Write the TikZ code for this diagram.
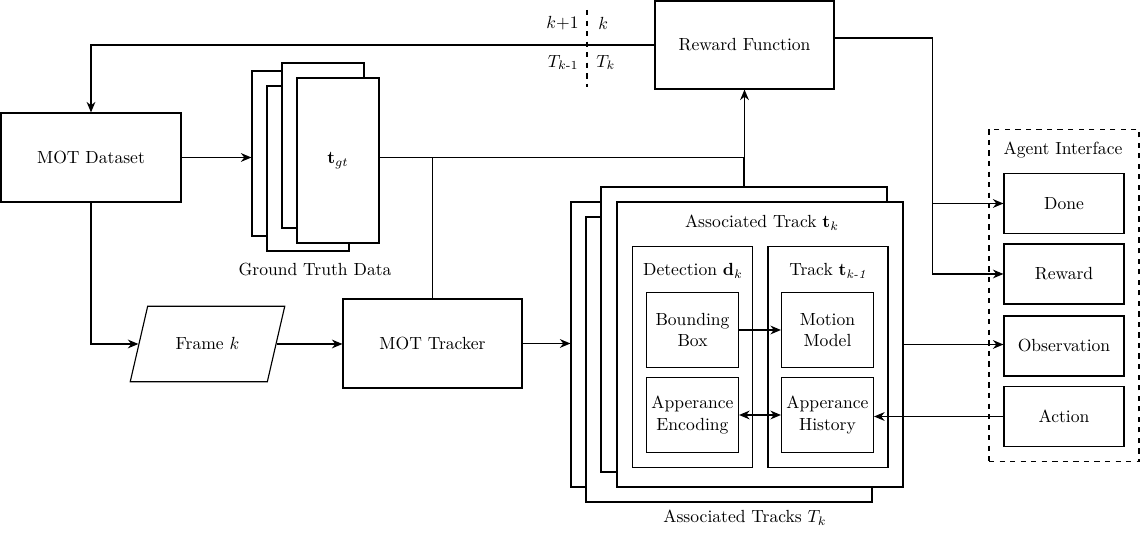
\documentclass[tikz,border=0pt]{standalone}
\usepackage{amsmath,amssymb}
\usetikzlibrary{shapes.geometric,arrows.meta}
\begin{document}
\begin{tikzpicture}[line width=0.65pt, >={Stealth[length=6pt,width=5pt]}, blk/.style={draw, minimum width=3.58cm, minimum height=1.78cm, inner sep=0pt}, pg/.style={draw, fill=white, minimum width=1.64cm, minimum height=3.3cm, inner sep=0pt}, trk/.style={draw, fill=white, minimum width=5.72cm, minimum height=5.7cm, inner sep=0pt}, grp/.style={draw, minimum width=2.4cm, minimum height=4.41cm, inner sep=0pt}, sm/.style={draw, minimum width=1.84cm, minimum height=1.5cm, inner sep=0pt, align=center}, ai/.style={draw, minimum width=2.4cm, minimum height=1.2cm, inner sep=0pt}]
	\useasboundingbox (0,0) rectangle (22.8,10.72);
	\node[blk, minimum width=3.6cm] (data) at (1.82,7.57) {MOT Dataset};
	\node[blk, minimum height=1.76cm] (rf) at (14.89,9.82) {Reward Function};
	\node[blk] (tracker) at (8.65,3.85) {MOT Tracker};
	\node[draw, trapezium, trapezium left angle=77, trapezium right angle=103, inner xsep=0.56cm, inner ysep=0.63cm] (frame) at (4.15,3.84) {Frame $k$};
	\foreach \n/\x/\y in {A/5.86/7.65, C/6.16/7.35, B/6.46/7.81} {\node[pg] (gt\n) at (\x,\y) {};}
	\node[pg] (gtD) at (6.76,7.51) {$\mathbf{t}_{gt}$};
	\node (gtlbl) at (6.3,5.32) {Ground Truth Data};
	\foreach \n/\x/\y in {A/14.28/3.83, C/14.58/3.53, B/14.88/4.13, D/15.2/3.83} {\node[trk] (tr\n) at (\x,\y) {};}
	\node (trlbl) at (15.24,6.26) {Associated Track $\mathbf{t}_k$};
	\node[grp] (det) at (13.85,3.58) {};
	\node (detlbl) at (13.86,5.3) {Detection $\mathbf{d}_k$};
	\node[grp] (old) at (16.56,3.58) {};
	\node (oldlbl) at (16.56,5.3) {Track $\mathbf{t}_{\textit{k-1}}$};
	\node[sm] (bb) at (13.85,4.12) {Bounding\\Box};
	\node[sm] (mm) at (16.55,4.12) {Motion\\Model};
	\node[sm] (ae) at (13.85,2.42) {Apperance\\Encoding};
	\node[sm] (ah) at (16.55,2.42) {Apperance\\History};
	\node (tslbl) at (14.9,0.36) {Associated Tracks $T_k$};
	\node[draw, dashed, minimum width=3cm, minimum height=6.65cm, inner sep=0pt] (agent) at (21.28,4.81) {};
	\node (agentlbl) at (21.26,7.72) {Agent Interface};
	\node[ai] (done) at (21.28,6.65) {Done};
	\node[ai] (rew) at (21.28,5.24) {Reward};
	\node[ai] (obs) at (21.28,3.8) {Observation};
	\node[ai] (act) at (21.28,2.39) {Action};
	\draw[dashed] (11.74,10.52) -- (11.74,8.98);
	\node[anchor=east] (knext) at (11.7,10.26) {$k{+}1$};
	\node[anchor=west] (know) at (11.84,10.26) {$k$};
	\node[anchor=east] (Tprev) at (11.7,9.47) {$T_{k\text{-}1}$};
	\node[anchor=west] (Tnow) at (11.8,9.47) {$T_k$};
	\coordinate (gtout) at ([yshift=0.06cm]gtD.east);
	\draw[->] (rf.west) -| (data.north);
	\draw[->] (data.east) -- (data.east -| gtA.west);
	\draw[->] (gtout) -| (rf.south);
	\draw (tracker.north) -- (tracker.north |- gtout);
	\draw (trB.north) -- (trB.north |- gtout);
	\draw[->] (data.south) |- (frame.west);
	\draw[->] (frame.east) -- (frame.east -| tracker.west);
	\draw[->] (tracker.east) -- (tracker.east -| trA.west);
	\draw[->] (bb.east) -- (mm.west);
	\draw[<->] (ae.east) -- (ah.west);
	\draw[->] (act.west) -- (act.west -| ah.east);
	\draw[->] (trD.east) -- (trD.east -| obs.west);
	\coordinate (rfout) at ([yshift=0.14cm]rf.east);
	\coordinate (bus) at (18.65,9.96);
	\draw[->] (rfout) -| (bus |- rew.west) -- (rew.west);
	\draw[->] (bus |- done.west) -- (done.west);
\end{tikzpicture}
\end{document}
